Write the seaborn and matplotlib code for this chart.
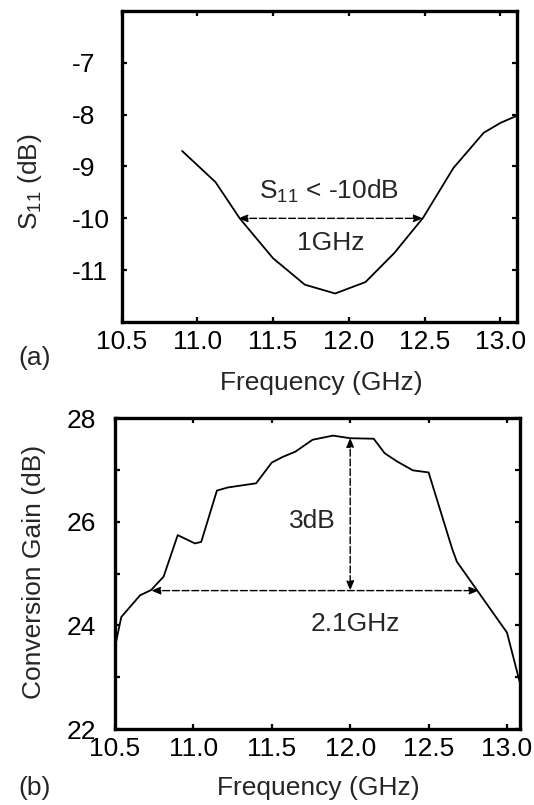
import matplotlib
matplotlib.use("Agg")
import matplotlib.pyplot as plt
import seaborn as sns
import pandas as pd

# ---- data ----
s11_freq = [10.90, 11.12, 11.28, 11.50, 11.71, 11.91, 12.11, 12.30, 12.49,
            12.69, 12.89, 13.00, 13.11]
s11_db = [-8.70, -9.30, -10.00, -10.77, -11.28, -11.45, -11.23, -10.67, -9.99,
          -9.03, -8.35, -8.16, -8.02]

gain_freq = [10.50, 10.54, 10.66, 10.73, 10.81, 10.90, 11.01, 11.05, 11.15,
             11.22, 11.40, 11.50, 11.57, 11.65, 11.76, 11.89, 12.00, 12.15,
             12.22, 12.30, 12.40, 12.50, 12.65, 12.68, 13.00, 13.08]
gain_db = [23.58, 24.16, 24.58, 24.68, 24.94, 25.74, 25.58, 25.61, 26.60,
           26.66, 26.74, 27.14, 27.25, 27.35, 27.58, 27.66, 27.61, 27.60,
           27.32, 27.16, 26.99, 26.95, 25.48, 25.23, 23.86, 22.92]

s11_xticks = [10.5, 11.0, 11.5, 12.0, 12.5, 13.0]
s11_yticks = [-11, -10, -9, -8, -7]
gain_xticks = [10.5, 11.0, 11.5, 12.0, 12.5, 13.0]
gain_yticks = [22, 23, 24, 25, 26, 27, 28]
gain_ylabels = ["22", "", "24", "", "26", "", "28"]

# annotation geometry
s11_band = [11.27, 12.49]      # -10 dB crossing frequencies
s11_level = -10.0
gain_band = [10.73, 12.82]     # 3 dB band edges
gain_level = 24.67
gain_peak = [12.0, 27.62]

sns.set_style("white")
plt.rcParams["font.family"] = ["Liberation Sans", "DejaVu Sans"]
plt.rcParams["mathtext.fontset"] = "custom"
plt.rcParams["mathtext.rm"] = "Liberation Sans"
plt.rcParams["mathtext.it"] = "Liberation Sans:italic"
plt.rcParams["mathtext.bf"] = "Liberation Sans:bold"
plt.rcParams["mathtext.default"] = "rm"

FS = 19
W, H = 534, 805
fig = plt.figure(figsize=(W / 100, H / 100), dpi=100)

ax1 = fig.add_axes([121.5 / W, 1 - 322 / H, (517 - 121.5) / W, (322 - 11) / H])
ax2 = fig.add_axes([115 / W, 1 - 729 / H, (520 - 115) / W, (729 - 418) / H])

df1 = pd.DataFrame({"f": s11_freq, "v": s11_db})
df2 = pd.DataFrame({"f": gain_freq, "v": gain_db})
sns.lineplot(data=df1, x="f", y="v", ax=ax1, color="black", lw=1.3, sort=False)
sns.lineplot(data=df2, x="f", y="v", ax=ax2, color="black", lw=1.3, sort=False)

def style(ax, xlim, ylim, xt, yt, ylabels=None):
    ax.set_xlim(*xlim)
    ax.set_ylim(*ylim)
    ax.set_xticks(xt)
    ax.set_xticklabels([f"{t:.1f}" for t in xt])
    ax.set_yticks(yt)
    ax.set_yticklabels(ylabels if ylabels is not None else [str(t) for t in yt])
    ax.set_xlabel("")
    ax.set_ylabel("")
    for s in ax.spines.values():
        s.set_visible(True)
        s.set_linewidth(2.4)
        s.set_color("black")
    ax.tick_params(axis="both", direction="in", length=3.5, width=1.6,
                   colors="black", labelsize=FS, top=True, right=True,
                   bottom=True, left=True)
    ax.tick_params(axis="x", pad=6)
    ax.tick_params(axis="y", pad=35.5)
    for lab in ax.get_yticklabels():
        lab.set_horizontalalignment("left")
    ax.grid(False)

style(ax1, (10.5, 13.11), (-12, -6), s11_xticks, s11_yticks)
style(ax2, (10.5, 13.083), (22, 28), gain_xticks, gain_yticks, gain_ylabels)
ax2.tick_params(axis="y", pad=35.0)

arrow_kw = dict(arrowstyle="<|-|>,head_length=0.55,head_width=0.22",
                color="black", lw=1.0, linestyle=(0, (5, 2)),
                shrinkA=0, shrinkB=0, mutation_scale=10)

# top annotations
ax1.annotate("", xy=(s11_band[1], s11_level), xytext=(s11_band[0], s11_level),
             arrowprops=arrow_kw)
ax1.text(11.87, -9.49, "S$_{11}$ < -10dB", fontsize=FS, ha="center", va="center")
ax1.text(11.88, -10.47, "1GHz", fontsize=FS, ha="center", va="center")

# bottom annotations
ax2.annotate("", xy=(gain_band[1], gain_level), xytext=(gain_band[0], gain_level),
             arrowprops=arrow_kw)
ax2.annotate("", xy=(gain_peak[0], gain_level), xytext=(gain_peak[0], gain_peak[1]),
             arrowprops=arrow_kw)
ax2.text(11.76, 26.02, "3dB", fontsize=FS, ha="center", va="center")
ax2.text(12.03, 24.02, "2.1GHz", fontsize=FS, ha="center", va="center")

# axis labels and panel tags
fig.text(321 / W, 1 - 383 / H, "Frequency (GHz)", fontsize=FS, ha="center", va="center")
fig.text(318 / W, 1 - 788 / H, "Frequency (GHz)", fontsize=FS, ha="center", va="center")
fig.text(30 / W, 1 - 182 / H, "S$_{11}$ (dB)", fontsize=FS, ha="center", va="center",
         rotation=90)
fig.text(34 / W, 1 - 572 / H, "Conversion Gain (dB)", fontsize=FS, ha="center",
         va="center", rotation=90)
fig.text(35 / W, 1 - 358 / H, "(a)", fontsize=FS, ha="center", va="center")
fig.text(35 / W, 1 - 788 / H, "(b)", fontsize=FS, ha="center", va="center")

fig.savefig("out.png", dpi=100)
